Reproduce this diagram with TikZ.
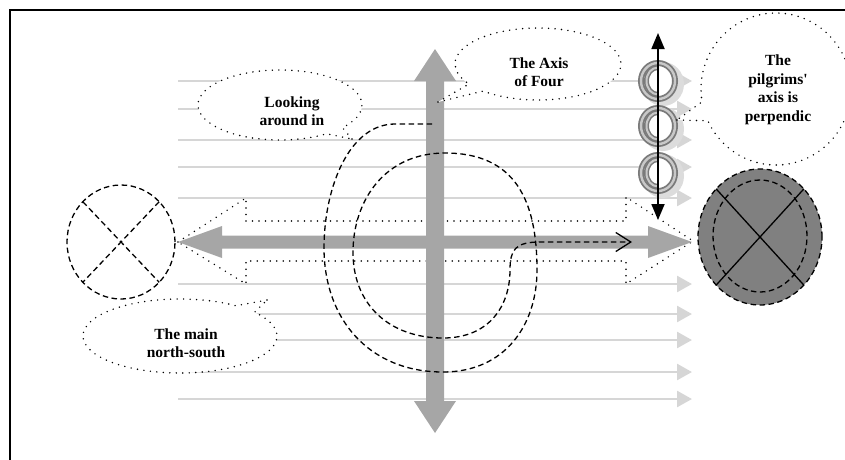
\documentclass[tikz,border=0pt]{standalone}
\usepackage{fontspec}
\setmainfont{Liberation Serif}
\usetikzlibrary{arrows.meta,shapes.geometric,shapes.callouts}
\definecolor{biggray}{HTML}{A6A6A6}
\definecolor{lightln}{HTML}{D6D6D6}
\definecolor{darkfill}{HTML}{808080}
\definecolor{ringdark}{HTML}{7A7A7A}
\definecolor{ringlight}{HTML}{C8C8C8}
\definecolor{shadowc}{HTML}{DCDCDC}
\begin{document}
\begin{tikzpicture}[x=1pt,y=-1pt,
  dotline/.style={line width=1.6pt, line cap=round, dash pattern=on 0pt off 6.5pt},
  dashline/.style={line width=1.3pt, dash pattern=on 5.5pt off 3.5pt},
  bubble/.style={ellipse callout, draw, fill=white, dotline, inner sep=0pt, outer sep=0pt},
  txt/.style={align=center, inner sep=0pt, font=\fontsize{15.5}{18.5}\selectfont\bfseries},
  lgline/.style={lightln, line width=2.6pt, -{Triangle[length=15pt,width=16pt]}},
  circ/.style={ellipse, draw, dashline, inner sep=0pt, outer sep=0pt}]
\useasboundingbox (0,0) rectangle (845,459);
\clip (0,0) rectangle (845,459);
% frame
\draw[line width=2pt] (10,470) -- (10,10) -- (860,10);
% light grey lines
\foreach \yy in {81,109,140,167,198,284,314,340,372,399}{
  \draw[lgline] (178,\yy) -- (692,\yy);
}
% dotted outline around the horizontal axis
\draw[dotline] (178,242) -- (246,198) -- (246,221) -- (626,221) -- (626,197) -- (693,241)
  -- (626,284) -- (626,261) -- (246,261) -- (246,284) -- cycle;
% big grey arrows
\fill[biggray] (178,242) -- (222,226) -- (222,235.5) -- (648,235.5) -- (648,226) -- (692,242)
  -- (648,258) -- (648,248.5) -- (222,248.5) -- (222,258) -- cycle;
\fill[biggray] (435,49) -- (456,81) -- (444,81) -- (444,401) -- (456,401) -- (435,433)
  -- (414,401) -- (426,401) -- (426,81) -- (414,81) -- cycle;
% spiral
\draw[dashline, -{Straight Barb[length=15pt,width=19pt,line width=1.3pt]}]
  (432,124) -- (395,124) .. controls (350,124) and (325,185) .. (324,245)
  .. controls (323,320) and (370,372) .. (443,372)
  .. controls (505,372) and (537,325) .. (537,270)
  .. controls (537,200) and (515,153) .. (445,153)
  .. controls (385,153) and (354,200) .. (353,250)
  .. controls (352,305) and (390,338) .. (443,338)
  .. controls (490,338) and (510,305) .. (510,270)
  .. controls (510,250) and (515,242) .. (540,242) -- (632,242);
% left circle
\node[circ, minimum width=108pt, minimum height=114pt] (lc) at (121,242) {};
\draw[dashline] (lc.north west) -- (lc.south east);
\draw[dashline] (lc.north east) -- (lc.south west);
% right circle
\node[circ, fill=darkfill, minimum width=124pt, minimum height=136pt] (rc) at (760,237) {};
\node[circ, minimum width=94pt, minimum height=112pt] (rci) at (760,236) {};
\draw[line width=1.3pt] (rc.north west) -- (rc.south east);
\draw[line width=1.3pt] (rc.north east) -- (rc.south west);
% rings
\foreach \cy in {81,126,173}{
  \fill[shadowc] (663,\cy+3) ellipse [x radius=21, y radius=22];
  \fill[white] (658,\cy) ellipse [x radius=19, y radius=20];
  \draw[ringdark, line width=6pt] (658,\cy) ellipse [x radius=17, y radius=18];
  \draw[ringlight, line width=2.4pt] (658,\cy) ellipse [x radius=17, y radius=18];
  \draw[ringdark, line width=5pt] (658,\cy-13.5) .. controls (651.4,\cy-13.5) and (646.5,\cy-7.4) .. (646.5,\cy)
     .. controls (646.5,\cy+7.4) and (651.4,\cy+13.5) .. (658,\cy+13.5);
  \draw[ringlight, line width=2pt] (658,\cy-13.5) .. controls (651.4,\cy-13.5) and (646.5,\cy-7.4) .. (646.5,\cy)
     .. controls (646.5,\cy+7.4) and (651.4,\cy+13.5) .. (658,\cy+13.5);
}
% black double arrow
\coordinate (ptop) at (658,33);
\coordinate (pbot) at (658,220);
\draw[line width=1.8pt, {Triangle[width=13pt,length=16pt]}-{Triangle[width=13pt,length=16pt]}] (ptop) -- (pbot);
% callouts
\node[bubble, minimum width=164pt, minimum height=70pt, callout absolute pointer={(352,139)}] (look) at (280,105) {};
\node[txt] (looktxt) at (292,111) {Looking\\around in};
\node[bubble, minimum width=166pt, minimum height=72pt, callout absolute pointer={(438,102)}] (axis) at (538,64) {};
\node[txt] (axistxt) at (539,72) {The Axis\\of Four};
\node[bubble, minimum width=150pt, minimum height=152pt, callout absolute pointer={(677,120)}] (pilg) at (776,89) {};
\node[txt] (pilgtxt) at (778,90) {The\\pilgrims\textquotesingle\\axis is\\perpendic};
\node[bubble, minimum width=194pt, minimum height=74pt, callout absolute pointer={(267,300)}] (main) at (180,336) {};
\node[txt] (maintxt) at (186,343) {The main\\north-south};
\end{tikzpicture}
\end{document}
